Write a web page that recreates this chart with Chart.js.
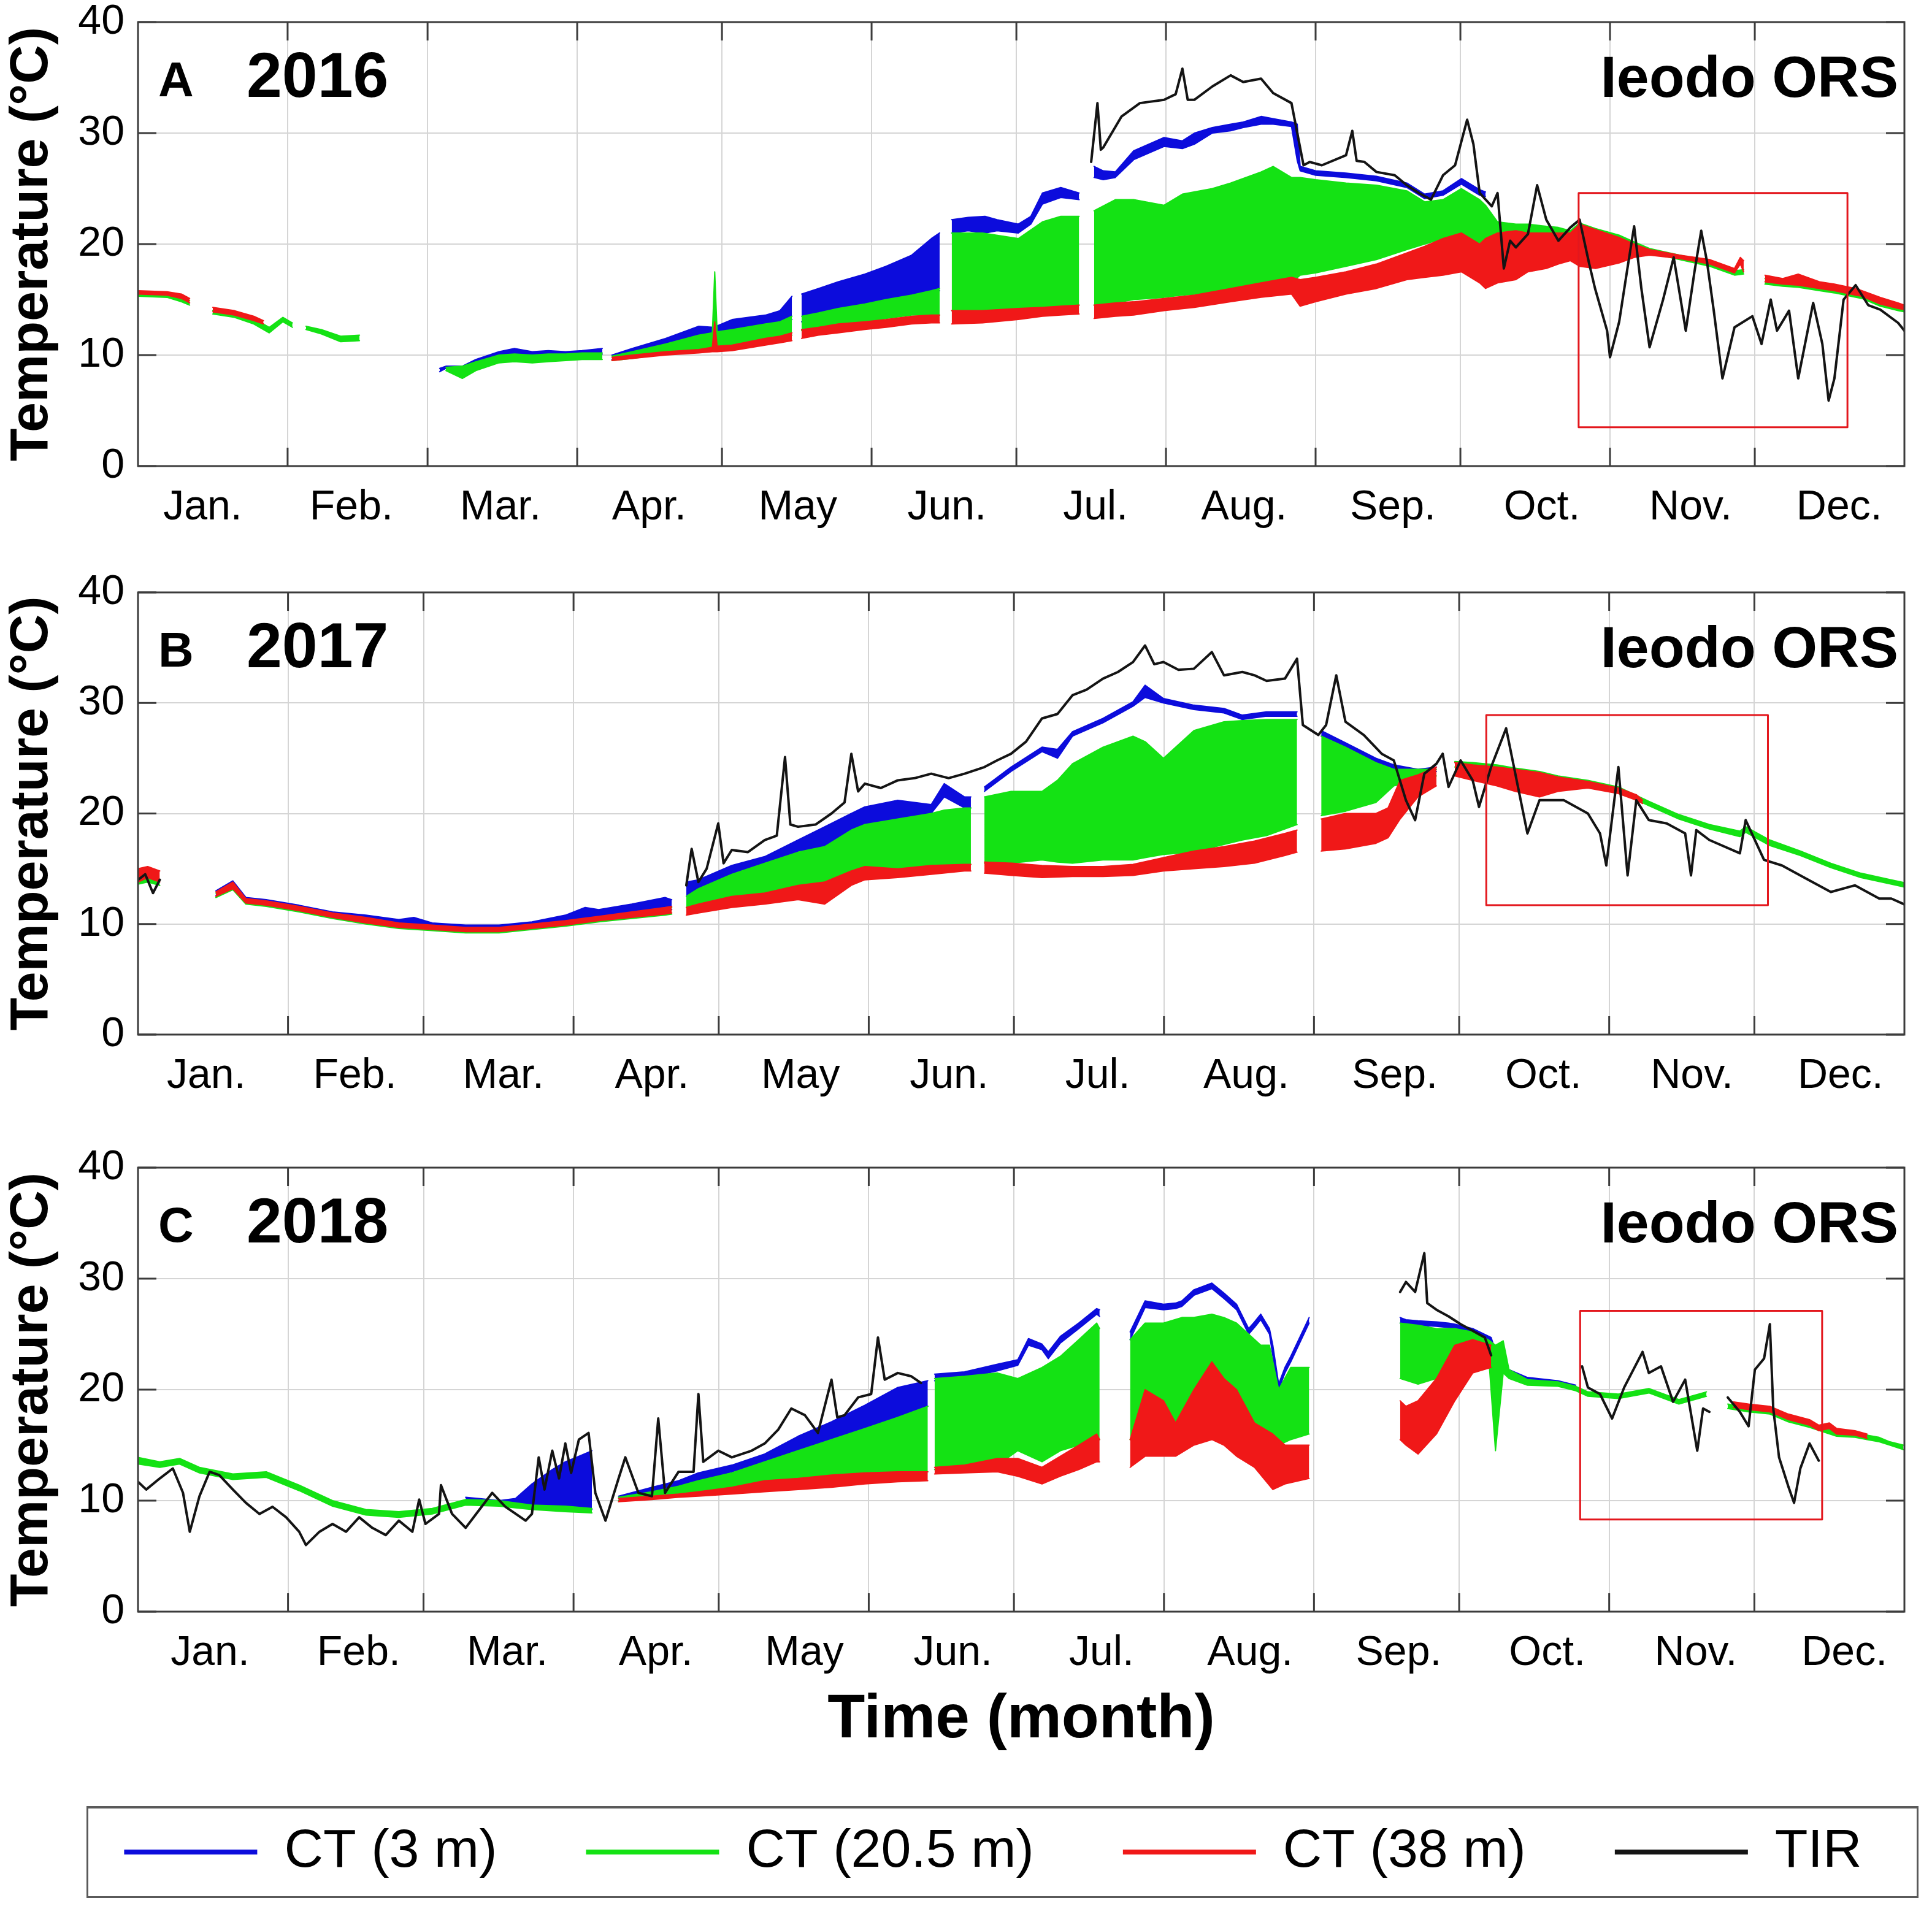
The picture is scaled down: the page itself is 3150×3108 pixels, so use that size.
<!DOCTYPE html>
<html><head><meta charset="utf-8">
<script src="https://cdn.jsdelivr.net/npm/chart.js@4.4.1/dist/chart.umd.min.js"></script>
<style>
html,body{margin:0;padding:0;background:#fff;overflow:hidden;width:3150px;height:3108px;position:relative}
.pane{position:absolute;left:0;width:3150px}
#legendBox{position:absolute;left:141px;top:2945px;width:2987px;height:150px;box-sizing:border-box;border:3px solid #5a5a5a;border-top-width:4px}
#legendWrap{position:absolute;left:19px;top:2831px;width:3200px;height:1000px}
</style></head>
<body>
<div class="pane" style="top:0px;height:900px"><canvas id="cA"></canvas></div>
<div class="pane" style="top:900px;height:900px"><canvas id="cB"></canvas></div>
<div class="pane" style="top:1800px;height:1100px"><canvas id="cC"></canvas></div>
<div id="legendBox"></div>
<div id="legendWrap"><canvas id="cL"></canvas></div>
<script>
const FONT = "'Liberation Sans', Arial, Helvetica, sans-serif";
Chart.defaults.font.family = FONT;
Chart.defaults.color = '#000';

const MONTHS = ['Jan.','Feb.','Mar.','Apr.','May','Jun.','Jul.','Aug.','Sep.','Oct.','Nov.','Dec.'];
const MONTH_START_LEAP = [0,31,60,91,121,152,182,213,244,274,305,335,366];
const MONTH_START_COMMON = [0,31,59,90,120,151,181,212,243,273,304,334,365];
// positions (day of year) at which the month names are printed, as in the figure
const A_LABEL_DAYS = [13.4,44.2,75.1,105.9,136.7,167.6,198.4,229.2,260.0,290.9,321.7,352.5];
const B_LABEL_DAYS = [14.1,44.8,75.5,106.2,136.9,167.6,198.3,229.0,259.7,290.4,321.1,351.8];
const C_LABEL_DAYS = [14.9,45.6,76.3,107.0,137.7,168.4,199.1,229.8,260.5,291.2,321.9,352.6];
const Y_TICKS = [0,10,20,30,40];
const LEGEND_LABELS = ['CT (3 m)','CT (20.5 m)','CT (38 m)','TIR'];
const COLORS = {blue:'#0c0cdc', green:'#14e214', red:'#f01818', black:'#141414', box:'#e3171d'};
const LEGEND_COLORS = [COLORS.blue, COLORS.green, COLORS.red, COLORS.black];

// ---------- 2016 (panel A): [day, low, high] ----------
const A_BLUE = [[62.5,8.5,8.8],[63.8,8.8,9.0],[67.2,8.6,9.0],[70,9.3,9.6],[74.8,9.9,10.3],[78,10.0,10.6],[81.7,9.8,10.3],[85,9.9,10.4],[88.6,9.9,10.3],[92,10.0,10.4],[96.2,10.1,10.6],[97,null,null],
[98.2,9.6,10.0],[102.4,9.9,10.6],[109.3,10.8,11.5],[116.2,11.6,12.6],[119.3,11.8,12.5],[123.1,12.0,13.2],[130,12.5,13.6],[133,12.8,14.0],[135.5,13.2,15.3],[136.5,null,null],
[137.5,13.0,15.5],[141,13.5,16.0],[145.1,14.0,16.6],[150.6,14.3,17.3],[155,14.8,18.0],[160.3,15.2,19.0],[164.4,15.5,20.5],[166.1,15.8,21.0],[167.3,null,null],
[168.6,21.0,22.2],[172,21.2,22.4],[175.5,21.0,22.5],[178,21.2,22.2],[182.4,21.0,21.8],[185,21.8,22.5],[187.4,23.6,24.6],[191.2,24.2,25.1],[195,24.0,24.6],[196.5,null,null],
[198.1,26.0,27.0],[200,25.8,26.6],[202.5,26.0,26.5],[206.3,27.6,28.4],[212.6,28.8,29.6],[216.4,28.6,29.3],[218.9,29.0,30.0],[222.6,30.0,30.5],[226.4,30.2,30.8],[229,30.5,31.0],[232.7,30.8,31.5],[235.2,30.8,31.3],[239,30.6,31.0],[240.2,27.5,30.8],
[240.8,26.6,27.0],[244,26.2,26.6],[250.3,26.0,26.4],[256.6,25.7,26.1],[262.9,25.1,25.5],[266.6,24.1,24.5],[270.4,24.4,24.8],[274.2,25.4,25.9],[278,24.4,24.9],[279.2,24.3,24.7]];

const A_GREEN = [[0,15.3,15.6],[6,15.2,15.5],[9,14.8,15.3],[10.7,14.5,14.9],[13,null,null],
[15.5,13.7,14.0],[20,13.4,13.8],[24,12.8,13.3],[27.2,12.0,12.5],[30,13.0,13.4],[32,12.5,12.9],[33.5,null,null],
[34.8,12.3,12.6],[38,11.9,12.3],[42,11.2,11.7],[45.9,11.3,11.8],[50,null,null],
[63.8,8.6,8.9],[67.2,7.9,9.0],[70,8.6,9.4],[74.8,9.3,10.0],[78,9.4,10.1],[81.7,9.3,10.0],[85,9.4,10.1],[88.6,9.5,10.1],[92,9.6,10.2],[96.2,9.6,10.2],[97,null,null],
[98.2,9.5,9.9],[102.4,9.7,10.3],[109.3,10.1,11.0],[116.2,10.4,11.8],[119,10.5,12.0],[119.5,10.6,17.5],[120,10.6,12.1],[123.1,10.7,12.3],[130,11.2,12.8],[133,11.5,13.0],[135.5,11.8,13.5],[136.5,null,null],
[137.5,12.2,13.5],[141,12.5,13.8],[145.1,12.7,14.2],[150.6,13.0,14.6],[155,13.3,15.0],[160.3,13.6,15.4],[164.4,13.6,15.8],[166.1,13.6,16.0],[167.3,null,null],
[168.6,14.0,21.0],[175,14.0,21.0],[182.4,14.2,20.5],[187.4,14.3,22.0],[191.2,14.4,22.5],[195,14.5,22.5],[196.5,null,null],
[198.1,14.5,23.0],[202.5,14.7,24.0],[206.3,15.0,24.0],[212.6,15.2,23.5],[216.4,15.4,24.5],[222.6,15.6,25.0],[226.4,15.8,25.5],[232.7,16.0,26.5],[235.2,16.2,27.0],[239,16.5,26.0],
[240.8,17.2,26.0],[244,17.4,25.8],[250.3,18.0,25.5],[256.6,18.6,25.3],[262.9,19.5,24.8],[266.6,20.0,23.8],[270.4,20.5,24.0],[274.2,20.0,25.0],[278,19.5,24.0],[279.2,19.5,23.5],
[281.7,20.5,22.0],[285.5,20.8,21.8],[288,21.0,21.8],[291.8,21.0,21.6],[294.3,20.8,21.5],[296.8,20.5,21.2],
[298.7,21.4,21.9],[302,20.9,21.4],[306.9,20.2,20.8],[310,19.6,20.2],[313.2,19.2,19.6],[319.4,18.6,19.0],[325.7,18.0,18.4],[330.8,17.2,17.6],[332.7,17.3,17.7],[335,null,null],
[337.1,16.4,16.9],[340.8,16.2,16.6],[344,16.1,16.5],[348.4,15.8,16.2],[351.5,15.6,16.1],[355.9,15.2,15.7],[357.2,15.1,15.5],[361,14.4,14.9],[364.7,14.0,14.4],[366,13.9,14.3]];

const A_RED = [[0,15.5,15.8],[6,15.4,15.7],[9,15.1,15.5],[10.7,14.7,15.1],[13,null,null],
[15.5,13.9,14.3],[20,13.6,14.0],[24,13.1,13.5],[26,12.8,13.1],[27,null,null],
[98.2,9.5,9.8],[102.4,9.7,10.0],[109.3,10.0,10.3],[116.2,10.2,10.5],[119,10.3,10.7],[119.5,10.3,13.0],[120,10.3,10.8],[123.1,10.4,10.9],[130,10.9,11.5],[133,11.1,11.7],[135.5,11.3,12.0],[136.5,null,null],
[137.5,11.5,12.3],[141,11.8,12.5],[145.1,12.0,12.8],[150.6,12.3,13.0],[155,12.5,13.2],[160.3,12.8,13.5],[164.4,12.9,13.6],[166.1,12.9,13.6],[167.3,null,null],
[168.6,12.8,14.0],[175,12.9,14.0],[182.4,13.2,14.2],[187.4,13.5,14.3],[191.2,13.6,14.4],[195,13.7,14.5],[196.5,null,null],
[198.1,13.3,14.5],[202.5,13.5,14.7],[206.3,13.6,14.8],[212.6,14.0,15.1],[218.9,14.3,15.4],[226.4,14.8,16.0],[232.7,15.2,16.5],[239,15.5,17.0],
[240.8,14.4,16.8],[244,14.8,17.0],[250.3,15.5,17.5],[256.6,16.0,18.2],[262.9,16.8,19.2],[266.6,17.0,19.8],[270.4,17.2,20.5],[274.2,17.5,21.0],[278,16.5,20.0],[279.2,16.0,20.5],
[281.7,16.5,21.0],[285.5,16.8,21.2],[288,17.5,21.0],[291.8,17.8,21.0],[294.3,18.2,21.0],[296.8,18.5,21.0],
[298.7,18.0,21.8],[302,17.8,21.3],[306.9,18.3,20.6],[310,18.8,20.0],[313.2,19.0,19.5],[319.4,18.7,19.0],[325.7,18.2,18.6],[330.8,17.4,17.8],[332,18.2,18.8],[332.7,17.5,18.5],[335,null,null],
[337.1,16.6,17.2],[340.8,16.4,16.9],[344,16.3,17.3],[348.4,16.0,16.6],[351.5,15.8,16.4],[355.9,15.4,16.0],[357.2,15.3,15.8],[361,14.6,15.2],[364.7,14.2,14.7],[366,14.1,14.5]];

const A_TIR = [[197.5,27.4],[198.8,32.7],[199.5,28.5],[200,28.7],[203.8,31.5],[207.6,32.7],[212.6,33.0],[215,33.5],[216.4,35.8],[217.5,33.0],[218.9,33.0],[222.6,34.2],[226.4,35.2],[229,34.6],[232.7,34.9],[235.2,33.6],[239,32.7],[240.2,30.0],[241.5,27.1],[242.8,27.4],[245.3,27.1],[250.3,28.0],[251.6,30.2],[252.5,27.5],[254.1,27.4],[256.6,26.5],[260.4,26.2],[262.9,25.3],[265.4,24.6],[267.9,24.0],[270.4,26.2],[272.9,27.1],[275.4,31.2],[276.7,29.0],[278,24.6],[280.5,23.4],[281.7,24.6],[283,17.8],[284.3,20.3],[285.5,19.7],[288,20.9],[289.9,25.3],[291.8,22.2],[294.3,20.3],[296.8,21.5],[298.7,22.2],[300.6,18.4],[301.9,16.0],[304.4,12.2],[305,9.8],[306.9,13.0],[308.5,17.5],[310,21.6],[311.5,16.0],[313.2,10.7],[316,15.0],[318.2,18.8],[320.7,12.2],[322.5,17.5],[323.9,21.2],[325.1,18.4],[326.5,14.0],[328.3,7.9],[330.8,12.5],[334.5,13.5],[336.4,11.0],[338.3,15.0],[339.6,12.2],[342.1,14.0],[344,7.9],[347.1,14.7],[349,11.0],[350.3,5.9],[351.5,7.9],[353.4,15.0],[355.9,16.3],[358.5,14.5],[361,14.1],[364.7,12.9],[366,12.2]];
const A_RECT_X = [298.5, 354.2];
const A_RECT_Y = [3.5, 24.6];

// ---------- 2017 (panel B) ----------
const B_BLUE = [[16.1,12.6,13.0],[19.6,13.4,13.9],[22.3,12.0,12.4],[26.5,11.8,12.2],[33.3,11.3,11.7],[40.2,10.7,11.1],[47.1,10.2,10.8],[53.9,9.8,10.4],[57,9.7,10.6],[60.8,9.6,10.1],[67.7,9.4,9.9],[74.6,9.4,9.9],[81.4,9.7,10.2],[88.3,10.0,10.8],[92.4,10.4,11.5],[95.2,10.5,11.3],[102.0,10.8,11.8],[108.9,11.2,12.4],[110.3,11.3,12.2],[111.5,null,null],
[113.3,12.5,13.8],[115.8,13.2,14.0],[122.7,14.5,15.3],[129.5,15.5,16.1],[136.4,16.5,17.6],[141.9,17.0,18.8],[147.4,18.5,20.0],[150.2,19.0,20.6],[157.0,19.5,21.2],[163.9,20.0,20.8],[166.6,21.5,22.7],[170.8,20.5,21.5],[172.1,20.5,21.5],[173.2,null,null],
[174.9,22.0,22.4],[180.4,23.8,24.2],[186.8,25.6,26.0],[190,25.0,25.8],[193.1,27.0,27.4],[199.4,28.2,28.6],[205.6,29.7,30.1],[208.1,30.5,31.6],[211.9,30.0,30.4],[218.2,29.4,29.8],[224.4,29.1,29.5],[228.2,28.5,28.9],[233.2,28.8,29.2],[239.5,28.8,29.2],[241.5,null,null],
[244.5,27.0,27.5],[249.5,26.0,26.4],[255.8,24.6,25.0],[259.5,24.0,24.4],[264.5,23.6,24.0],[268.3,23.8,24.2]];

const B_GREEN = [[0,13.6,14.2],[2,13.8,14.4],[4.5,13.5,14.0],[6,null,null],
[16.1,12.4,12.8],[19.6,13.1,13.7],[22.3,11.8,12.2],[26.5,11.6,12.0],[33.3,11.1,11.5],[40.2,10.5,10.9],[47.1,10.0,10.5],[53.9,9.6,10.0],[60.8,9.4,9.8],[67.7,9.2,9.6],[74.6,9.2,9.6],[81.4,9.5,9.9],[88.3,9.8,10.2],[95.2,10.2,10.6],[102.0,10.5,11.0],[108.9,10.8,11.4],[110.3,10.9,11.5],[111.5,null,null],
[113.3,11.5,12.5],[115.8,11.8,13.2],[122.7,12.5,14.5],[129.5,12.8,15.5],[136.4,13.5,16.5],[141.9,13.8,17.0],[147.4,14.8,18.5],[150.2,15.2,19.0],[157.0,15.0,19.5],[163.9,15.3,20.0],[166.6,15.3,20.3],[170.8,15.4,20.5],[172.1,15.4,20.5],[173.2,null,null],
[174.9,15.5,21.5],[180.4,15.5,22.0],[186.8,15.8,22.0],[190,15.6,23.0],[193.1,15.5,24.5],[199.4,15.8,26.0],[205.6,15.8,27.0],[208.1,16.0,26.5],[211.9,16.3,25.0],[218.2,16.5,27.5],[224.4,17.2,28.3],[228.2,17.6,28.4],[233.2,18.0,28.5],[239.5,19.0,28.5],[241.5,null,null],
[244.5,19.8,27.0],[249.5,20.2,26.0],[255.8,21.0,24.6],[259.5,22.5,24.0],[264.5,23.0,24.0],[268.3,23.4,24.0],[269.6,null,null],
[272.1,24.2,24.7],[275.8,24.1,24.6],[280.8,24.0,24.4],[284.6,23.7,24.1],[289.6,23.4,23.8],[293.4,23.0,23.4],[299.6,22.6,23.0],[305.9,22.0,22.4],[312.2,20.7,21.1],[318.4,19.5,19.9],[324.7,18.6,19.0],[331.0,17.9,18.4],[332.2,18.3,18.8],[337.2,17.1,17.6],[343.5,16.2,16.6],[349.8,15.1,15.5],[356.0,14.2,14.6],[362.3,13.6,14.0],[365.4,13.3,13.7]];

const B_RED = [[0,13.8,15.0],[2,14.2,15.2],[4.5,13.8,14.8],[6,null,null],
[16.1,12.5,12.9],[19.6,13.2,13.8],[22.3,11.9,12.3],[26.5,11.7,12.1],[33.3,11.2,11.6],[40.2,10.6,11.0],[47.1,10.1,10.6],[53.9,9.7,10.1],[60.8,9.5,9.9],[67.7,9.3,9.7],[74.6,9.3,9.7],[81.4,9.6,10.0],[88.3,9.9,10.3],[95.2,10.3,10.7],[102.0,10.6,11.1],[108.9,10.9,11.5],[110.3,11.0,11.6],[111.5,null,null],
[113.3,10.8,11.5],[115.8,11.0,11.8],[122.7,11.5,12.5],[129.5,11.8,12.8],[136.4,12.2,13.5],[141.9,11.8,13.8],[147.4,13.5,14.8],[150.2,14.0,15.2],[157.0,14.2,15.0],[163.9,14.5,15.3],[170.8,14.8,15.4],[172.1,14.8,15.4],[173.2,null,null],
[174.9,14.6,15.6],[180.6,14.4,15.5],[186.8,14.2,15.3],[193.1,14.3,15.2],[199.4,14.3,15.2],[205.6,14.4,15.4],[211.9,14.8,16.0],[218.2,15.0,16.6],[224.4,15.2,17.0],[230.7,15.5,17.5],[237.0,16.2,18.2],[239.5,16.5,18.5],[241.5,null,null],
[244.5,16.6,19.5],[249.5,16.8,20.0],[255.8,17.3,20.0],[258.3,17.8,20.5],[260.8,19.5,23.0],[264.5,21.5,23.5],[268.3,22.5,24.2],[269.6,null,null],
[272.1,23.4,24.6],[275.8,23.0,24.4],[280.8,22.5,24.2],[284.6,22.0,24.0],[289.6,21.5,23.7],[293.4,22.0,23.3],[299.6,22.3,22.9],[305.9,21.8,22.3],[309.6,21.2,21.7],[310.9,20.9,21.2]];

const B_TIR = [[0,14.0],[1.5,14.5],[3.1,12.8],[4.5,14.0],[6,null],[113.3,13.5],[114.4,16.8],[115.8,13.8],[117.5,15.0],[119.9,19.1],[121,15.5],[122.7,16.7],[126,16.5],[129.5,17.6],[132,18.0],[133.7,25.1],[134.8,19.0],[136.4,18.8],[140,19.0],[143.3,20.0],[146,21.0],[147.4,25.4],[148.8,22.0],[150.2,22.7],[153.5,22.3],[157.0,23.0],[160.5,23.2],[163.9,23.6],[167.5,23.2],[170.8,23.6],[174.9,24.2],[177.5,24.8],[180.4,25.4],[183.5,26.5],[186.8,28.6],[190,29.0],[193.1,30.7],[196,31.2],[199.4,32.2],[202.5,32.8],[205.6,33.7],[208.1,35.2],[210,33.5],[211.9,33.7],[215,33.0],[218.2,33.1],[221.9,34.6],[224.4,32.5],[228.2,32.8],[230.7,32.5],[233.2,32.0],[237.0,32.2],[239.5,34.0],[240.7,28.0],[243.9,27.1],[245.5,28.0],[247.6,32.5],[249.5,28.3],[253.3,27.1],[257.0,25.4],[259.5,24.8],[262.0,21.2],[263.9,19.4],[265.8,23.6],[268.3,24.5],[269.6,25.4],[270.8,22.4],[273.3,24.8],[275.8,23.0],[277.1,20.6],[279.6,24.2],[282.7,27.7],[284.6,23.6],[287.1,18.2],[289.6,21.2],[294.6,21.2],[299.6,20.0],[302.1,18.2],[303.4,15.3],[305.9,24.2],[307.8,14.4],[309.6,21.2],[312.2,19.4],[315.9,19.1],[319.7,18.2],[320.9,14.4],[322,18.5],[324.7,17.6],[331.0,16.4],[332.2,19.4],[336.0,15.8],[339.7,15.3],[344.7,14.1],[349.8,12.9],[354.8,13.5],[359.8,12.3],[362.3,12.3],[365.4,11.7]];
const B_RECT_X = [278.6, 336.8];
const B_RECT_Y = [11.7, 28.9];

// ---------- 2018 (panel C) ----------
const C_BLUE = [[67.7,9.8,10.3],[70.4,9.7,10.2],[74.6,9.6,10.0],[78,9.5,10.2],[81.4,9.4,11.5],[85.6,9.3,12.8],[88.3,9.3,13.5],[91.1,9.2,14.0],[93.8,9.2,14.5],[95,null,null],
[99.3,10.0,10.4],[106.2,10.6,11.2],[111.7,11.2,11.8],[115.8,11.8,12.5],[122.7,12.6,13.2],[129.5,13.5,14.2],[136.4,14.5,15.8],[143.3,15.5,17.1],[150.2,16.5,18.6],[157.0,17.5,20.2],[163.2,18.5,20.8],[163.9,null,null],
[164.6,20.8,21.4],[170.8,21.0,21.6],[177.6,21.7,22.3],[181.8,22.2,22.7],[184,24.0,24.6],[186.8,23.6,24.1],[188.1,22.8,23.4],[190.6,24.2,24.8],[194.4,25.5,26.0],[198.1,26.8,27.3],[198.7,26.6,27.2],[201,null,null],
[205.0,24.5,25.2],[208.1,27.4,28.0],[211.9,27.2,27.7],[214.4,27.3,27.8],[215.7,27.5,28.0],[218.2,28.5,29.0],[221.9,29.1,29.6],[224.4,28.2,28.7],[227.0,27.2,27.7],[229.5,25.0,25.5],[230.7,25.6,26.1],[232.0,26.3,26.8],[233.8,25.0,25.5],[234.5,23.0,24.0],[235.7,20.0,20.5],[237.0,21.5,22.0],[238.2,22.5,23.0],[242.0,26.0,26.5],[243,null,null],
[260.8,26.0,26.5],[262.0,25.9,26.3],[264.5,25.8,26.2],[268.3,25.7,26.1],[270.8,25.6,26.0],[272.1,25.5,25.9],[275.8,25.1,25.5],[279.6,24.3,24.7],[280.5,23.0,23.5],[282.1,22.0,22.5],[283.3,21.4,21.8],[287.1,20.7,21.1],[293.4,20.4,20.8],[297.1,20.0,20.4]];

const C_GREEN = [[0,13.3,13.9],[4.5,13.0,13.5],[8.6,13.3,13.8],[12.7,12.5,13.0],[19.6,11.9,12.4],[26.5,12.1,12.6],[33.3,10.9,11.4],[40.2,9.5,10.0],[47.1,8.7,9.2],[53.9,8.5,9.0],[60.8,8.8,9.3],[67.7,9.6,10.1],[74.6,9.5,10.0],[81.4,9.2,9.6],[88.3,9.0,9.5],[93.8,8.9,9.3],[95,null,null],
[99.3,10.0,10.3],[106.2,10.2,10.8],[111.7,10.5,11.3],[115.8,10.7,11.8],[122.7,11.0,12.5],[129.5,11.5,13.5],[136.4,12.0,14.5],[143.3,12.3,15.5],[150.2,12.5,16.5],[157.0,12.6,17.5],[163.2,12.6,18.5],[163.9,null,null],
[164.6,12.8,21.0],[170.8,13.0,21.2],[177.6,13.2,21.5],[181.8,14.5,21.0],[186.8,13.5,22.0],[190.6,14.5,23.0],[194.4,15.0,24.5],[198.1,15.5,26.0],[198.7,15.5,25.5],[201,null,null],
[205.0,15.5,24.5],[208.1,17.0,26.0],[211.9,17.0,26.0],[215.7,17.2,26.5],[218.2,17.5,26.5],[221.9,17.5,26.8],[224.4,17.2,26.5],[227.0,16.5,26.0],[229.5,16.0,25.0],[232.0,15.5,24.0],[233.8,15.0,24.0],[235.7,15.0,20.0],[238.2,15.5,22.0],[242.0,16.0,22.0],[243,null,null],
[260.8,21.0,26.0],[264.5,20.5,25.8],[268.3,21.0,25.5],[272.1,22.0,25.5],[275.8,23.0,25.2],[279.0,23.5,24.5],[280.5,14.5,24.0],[282.1,21.5,24.4],[283.3,21.0,21.8],[287.1,20.4,20.9],[293.4,20.3,20.7],[297.1,19.9,20.3],[299.6,19.4,19.8],[305.9,19.2,19.6],[312.2,19.7,20.1],[318.4,18.7,19.1],[324.1,19.4,19.8],[326,null,null],
[328.5,18.3,18.7],[332.8,18.0,18.4],[337.2,17.8,18.2],[341.0,17.1,17.5],[345.4,16.6,17.0],[351,15.8,16.2],[354.8,15.7,16.1],[357.3,15.5,15.9],[359.8,15.3,15.7],[362,15.0,15.3],[364.8,14.6,15.0]];

const C_RED = [[99.3,9.9,10.2],[106.2,10.1,10.4],[111.7,10.3,10.6],[115.8,10.4,10.8],[122.7,10.6,11.2],[129.5,10.8,11.8],[136.4,11.0,12.0],[143.3,11.2,12.3],[150.2,11.5,12.5],[157.0,11.7,12.6],[163.2,11.8,12.6],[163.9,null,null],
[164.6,12.4,13.0],[170.8,12.5,13.2],[177.6,12.6,13.8],[181.8,12.2,13.8],[186.8,11.5,13.0],[190.6,12.2,14.0],[194.4,12.8,15.0],[198.1,13.5,16.0],[198.7,13.5,15.5],[201,null,null],
[205.0,13.0,15.5],[208.1,14.0,20.0],[211.9,14.0,19.0],[214.4,14.0,17.0],[218.2,15.0,20.0],[221.9,15.5,22.5],[224.4,15.0,21.0],[227.0,14.0,20.0],[230.7,13.0,17.0],[234.5,11.0,16.0],[237.0,11.5,15.0],[242.0,12.0,15.0],[243,null,null],
[260.8,15.5,19.0],[262.0,15.0,18.5],[264.5,14.2,19.0],[268.3,16.0,21.0],[272.1,19.0,24.0],[275.8,21.5,24.5],[279.6,22.0,24.0],[280.5,null,null],
[329.7,18.4,18.9],[332.8,18.2,18.7],[337.2,18.0,18.5],[341.0,17.3,17.8],[345.4,16.8,17.3],[347.3,16.3,16.8],[349.5,16.5,17.0],[351,16.0,16.5],[354.8,15.9,16.3],[357.3,15.6,16.0]];

const C_TIR = [[0,11.7],[1.7,11.0],[4.5,12.0],[7.2,12.9],[9.3,10.7],[10.7,7.2],[12.7,10.4],[14.8,12.6],[16.8,12.3],[19.6,11.0],[22.3,9.8],[25.1,8.8],[27.8,9.45],[30.6,8.5],[33.3,7.2],[34.7,6.0],[37.5,7.2],[40.2,7.9],[43.0,7.2],[45.7,8.5],[48.4,7.55],[51.2,6.9],[53.9,8.2],[56.7,7.2],[58.1,10.1],[59.4,7.9],[62.2,8.8],[62.6,11.4],[64.9,8.8],[67.7,7.55],[70.4,9.1],[73.2,10.7],[75.9,9.45],[80.1,8.2],[81.4,8.8],[82.8,13.9],[84,11.0],[85.6,14.5],[87,12.0],[88.3,15.15],[89.5,12.5],[91.1,15.5],[93.1,16.1],[94.5,10.7],[96.6,8.2],[99.3,12.0],[100.7,13.9],[103.4,10.7],[106.2,10.4],[107.5,17.4],[108.9,10.7],[111.7,12.6],[114.8,12.6],[115.8,19.6],[116.8,13.5],[119.9,14.5],[122.7,13.9],[126.8,14.5],[129.5,15.15],[132.3,16.4],[135.0,18.3],[137.8,17.7],[140.5,16.1],[143.3,20.9],[144.5,17.5],[146.0,17.7],[148.8,19.3],[151.5,19.6],[152.9,24.7],[154.3,20.9],[157.0,21.5],[159.8,21.2],[161.8,20.6],[163,null],
[260.8,28.8],[262.0,29.7],[263.9,28.8],[265.8,32.3],[266.4,27.8],[268.3,27.2],[270.8,26.6],[273.3,25.9],[275.8,25.3],[278.3,24.7],[279.6,23.1],[281,null],
[298.4,22.1],[299.6,20.2],[302.1,19.6],[304.6,17.4],[307.1,20.2],[309.0,21.8],[310.9,23.4],[312.2,21.5],[314.7,22.1],[317.2,18.9],[319.7,20.9],[322.2,14.5],[323.4,18.3],[324.7,18.0],[326,null],
[328.5,19.3],[331.0,18.0],[332.8,16.7],[334.1,21.8],[336.0,22.8],[337.2,25.9],[337.9,18.3],[339.1,13.9],[341.0,11.3],[342.2,9.8],[343.5,12.9],[345.4,15.15],[347.3,13.6]];
const C_RECT_X = [298, 348];
const C_RECT_Y = [8.3, 27.1];

// ---------- helpers ----------
const hiPts = b => b.map(p => ({x: p[0], y: p[2]}));
const loPts = b => b.map(p => ({x: p[0], y: p[1]}));
const linePts = t => t.map(p => ({x: p[0], y: p[1]}));
const rectPts = (xs, ys) => [{x: xs[0], y: ys[0]}, {x: xs[1], y: ys[0]}, {x: xs[1], y: ys[1]}, {x: xs[0], y: ys[1]}, {x: xs[0], y: ys[0]}];

const framePlugin = {
  id: 'frame',
  afterDatasetsDraw(chart, args, o) {
    const ctx = chart.ctx;
    const {left, right, top, bottom} = chart.chartArea;
    const xs = chart.scales.x, ys = chart.scales.y;
    ctx.save();
    ctx.strokeStyle = '#3c3c3c';
    ctx.lineWidth = 3;
    ctx.beginPath();
    o.bounds.forEach(b => {
      const px = xs.getPixelForValue(b);
      ctx.moveTo(px, bottom); ctx.lineTo(px, bottom - 30);
      ctx.moveTo(px, top); ctx.lineTo(px, top + 30);
    });
    Y_TICKS.forEach(v => {
      const py = ys.getPixelForValue(v);
      ctx.moveTo(left, py); ctx.lineTo(left + 30, py);
      ctx.moveTo(right, py); ctx.lineTo(right - 30, py);
    });
    ctx.stroke();
    ctx.strokeRect(left, top, right - left, bottom - top);
    ctx.fillStyle = '#000';
    ctx.textBaseline = 'alphabetic';
    ctx.textAlign = 'left';
    ctx.font = 'bold 80px ' + FONT;
    ctx.fillText(o.letter, left + 33, top + 121);
    ctx.font = 'bold 104px ' + FONT;
    ctx.fillText(o.year, left + 177, top + 122);
    ctx.font = 'bold 95px ' + FONT;
    ctx.textAlign = 'right';
    ctx.fillText('Ieodo ORS', right - 10, top + 122);
    ctx.restore();
  }
};

function band(name, data, color) {
  return [
    {label: name + ' hi', data: hiPts(data), borderColor: color, backgroundColor: color, borderWidth: 2, fill: '+1'},
    {label: name + ' lo', data: loPts(data), borderColor: color, backgroundColor: color, borderWidth: 2, fill: false}
  ];
}

function makePanel(id, p) {
  const starts = p.starts;
  const yearLen = starts[12];
  const bounds = starts.slice(1, 12);
  const labelDays = p.labelDays;
  const datasets = [
    {label: 'box', data: rectPts(p.rectX, p.rectY), borderColor: COLORS.box, borderWidth: 3, fill: false},
    {label: 'TIR', data: linePts(p.tir), borderColor: COLORS.black, borderWidth: 4, fill: false},
    ...band('red', p.red, COLORS.red),
    ...band('green', p.green, COLORS.green),
    ...band('blue', p.blue, COLORS.blue)
  ];
  return new Chart(document.getElementById(id), {
    type: 'line',
    data: {datasets},
    plugins: [framePlugin],
    options: {
      responsive: true, maintainAspectRatio: false, animation: false, events: [],
      layout: {padding: {top: p.padTop, right: 45, left: 0, bottom: 0}},
      elements: {point: {radius: 0}, line: {tension: 0, borderJoinStyle: 'round', borderCapStyle: 'round'}},
      spanGaps: false,
      plugins: {
        legend: {display: false}, tooltip: {enabled: false},
        frame: {bounds, letter: p.letter, year: p.year}
      },
      scales: {
        x: {
          type: 'linear', position: 'bottom', min: 0, max: yearLen, weight: 0,
          afterBuildTicks: s => { s.ticks = bounds.map(v => ({value: v})); },
          grid: {color: '#d5d5d5', lineWidth: 2, drawTicks: false},
          border: {display: false},
          ticks: {display: false},
          afterFit: s => { s.height = 0; }
        },
        xl: {
          type: 'linear', axis: 'x', position: 'bottom', min: 0, max: yearLen, weight: 1,
          afterBuildTicks: s => { s.ticks = labelDays.map(v => ({value: v})); },
          grid: {display: false, drawTicks: false},
          border: {display: false},
          ticks: {padding: 27, autoSkip: false, maxRotation: 0, minRotation: 0, color: '#000',
                  font: {size: 68}, callback: (v, i) => MONTHS[i]},
          title: p.xTitle ? {display: true, text: 'Time (month)', color: '#000',
                  font: {size: 100, weight: 'bold'}, padding: {top: 0, bottom: 35}} : {display: false},
          afterFit: s => { s.height = p.xlH; }
        },
        y: {
          min: 0, max: 40,
          afterBuildTicks: s => { s.ticks = Y_TICKS.map(v => ({value: v})); },
          grid: {color: '#d5d5d5', lineWidth: 2, drawTicks: false},
          border: {display: false},
          ticks: {padding: 22, color: '#000', font: {size: 68, lineHeight: 0.3}},
          title: {display: true, text: 'Temperature (°C)', color: '#000', font: {size: 88, weight: 'bold'}, padding: 0},
          afterFit: s => { s.width = 225; }
        }
      }
    }
  });
}

makePanel('cA', {starts: MONTH_START_LEAP, labelDays: A_LABEL_DAYS, blue: A_BLUE, green: A_GREEN, red: A_RED, tir: A_TIR,
  rectX: A_RECT_X, rectY: A_RECT_Y, letter: 'A', year: '2016', padTop: 36, xlH: 140, xTitle: false});
makePanel('cB', {starts: MONTH_START_COMMON, labelDays: B_LABEL_DAYS, blue: B_BLUE, green: B_GREEN, red: B_RED, tir: B_TIR,
  rectX: B_RECT_X, rectY: B_RECT_Y, letter: 'B', year: '2017', padTop: 66, xlH: 113, xTitle: false});
makePanel('cC', {starts: MONTH_START_COMMON, labelDays: C_LABEL_DAYS, blue: C_BLUE, green: C_GREEN, red: C_RED, tir: C_TIR,
  rectX: C_RECT_X, rectY: C_RECT_Y, letter: 'C', year: '2018', padTop: 104, xlH: 272, xTitle: true});

// legend (its own chart; the frame around it is the #legendBox element)
new Chart(document.getElementById('cL'), {
  type: 'line',
  data: {datasets: LEGEND_LABELS.map((l, i) => ({label: l, data: [], borderColor: LEGEND_COLORS[i], backgroundColor: LEGEND_COLORS[i]}))},
  options: {
    responsive: true, maintainAspectRatio: false, animation: false, events: [],
    layout: {padding: 0},
    scales: {x: {display: false}, y: {display: false}},
    plugins: {
      tooltip: {enabled: false},
      legend: {
        display: true, position: 'top', align: 'center',
        labels: {
          boxWidth: 217, boxHeight: 8, padding: 145, color: '#000', font: {size: 88},
          generateLabels: () => LEGEND_LABELS.map((t, i) => ({text: t, fillStyle: LEGEND_COLORS[i], strokeStyle: LEGEND_COLORS[i], lineWidth: 0, hidden: false, datasetIndex: i, fontColor: '#000'}))
        }
      }
    }
  }
});
</script>
</body></html>
